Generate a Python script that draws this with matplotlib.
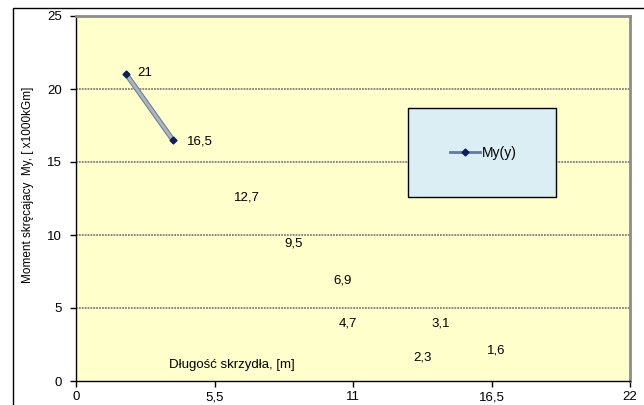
import matplotlib
matplotlib.use("Agg")
import matplotlib.pyplot as plt
import matplotlib.patheffects as pe
from matplotlib.lines import Line2D
from matplotlib.patches import Rectangle

plt.rcParams["font.family"] = ["Liberation Sans", "DejaVu Sans"]

# series (only the first two points are drawn as a line in the original)
span = [2.0, 3.85]
moment = [21.0, 16.5]

# data labels and where they sit on the chart (data coords, label centre)
labels = ["21", "16,5", "12,7", "9,5", "6,9", "4,7", "3,1", "2,3", "1,6"]
label_x = [2.75, 4.9, 6.8, 8.65, 10.6, 10.8, 14.5, 13.75, 16.7]
label_y = [21.1, 16.4, 12.6, 9.45, 6.85, 3.97, 3.97, 1.64, 2.12]

x_ticks = [0, 5.5, 11, 16.5, 22]
x_ticklabels = ["0", "5,5", "11", "16,5", "22"]
y_ticks = [0, 5, 10, 15, 20, 25]

fig = plt.figure(figsize=(6.44, 4.05), dpi=100)
fig.patches.append(Rectangle((13 / 644, -0.1), 1.2, 1.1 - 8 / 405,
                             transform=fig.transFigure, fill=False,
                             edgecolor="black", linewidth=1.0))
ax = fig.add_axes([76 / 644, 1 - 381 / 405, 554 / 644, 365 / 405])
ax.set_facecolor("#FFFFCC")

ax.set_xlim(0, 22)
ax.set_ylim(0, 25)
ax.set_xticks(x_ticks)
ax.set_xticklabels(x_ticklabels)
ax.set_yticks(y_ticks)
ax.tick_params(direction="out", length=4, width=1, labelsize=9.5, color="black")
ax.tick_params(axis="y", pad=6)

for y in y_ticks[1:-1]:
  ax.axhline(y, color="#7f7f7f", linestyle=(0, (1, 0.6)), linewidth=1.3, zorder=1)

for side in ["left", "bottom"]:
  ax.spines[side].set_color("black")
  ax.spines[side].set_linewidth(1)
for side in ["top", "right"]:
  ax.spines[side].set_color("#8c8c8c")
  ax.spines[side].set_linewidth(2)

ax.plot(span, moment, color="#a9b5c4", linewidth=2.2, zorder=3,
        path_effects=[pe.Stroke(linewidth=3.6, foreground="#66768c"), pe.Normal()])
ax.plot(span, moment, linestyle="none", marker="D", markersize=3.5,
        color="#0a1f5c", zorder=4)

for t, lx, ly in zip(labels, label_x, label_y):
  ax.text(lx, ly, t, ha="center", va="center", fontsize=9.5, zorder=5)

ax.text(6.2, 1.1, "Długość skrzydła, [m]", ha="center", va="center", fontsize=9.5, zorder=5)
fig.text(28 / 644, 1 - 185 / 405, "Moment skręcajacy  My, [ x1000kGm]",
         rotation=90, ha="center", va="center", fontsize=8.5)

# legend box
ax.add_patch(Rectangle((0.599, 0.504), 0.267, 0.244, transform=ax.transAxes,
                       facecolor="#DAEEF3", edgecolor="black", linewidth=1, zorder=6))
handle = Line2D([], [], color="#5f7aa6", linewidth=2, marker="D", markersize=3.5,
                markerfacecolor="#0a1f5c", markeredgecolor="#0a1f5c")
ax.legend([handle], ["My(y)"], loc="center", bbox_to_anchor=(0.735, 0.626),
          frameon=False, fontsize=10, handlelength=2.2, handletextpad=0.1).set_zorder(7)

fig.savefig("out.png", dpi=100, facecolor="white")
